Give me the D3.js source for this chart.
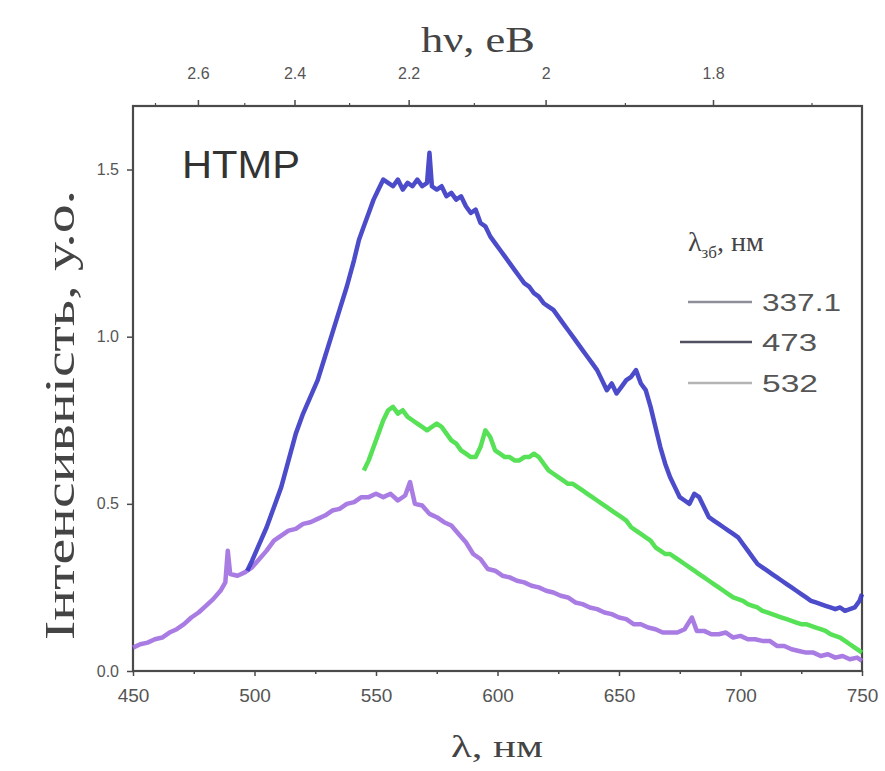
<!DOCTYPE html>
<html><head><meta charset="utf-8">
<script src="https://cdn.jsdelivr.net/npm/d3@7/dist/d3.min.js"></script>
<style>html,body{margin:0;padding:0;background:#fff;}svg{display:block;}</style>
</head><body>
<svg id="chart" width="885" height="771"></svg>
<script>
// ---- data ----
const seriesNames = ["337.1", "473", "532"];
const seriesColors = ["#a06ee0", "#3838c4", "#44de44"];
const legendLineColors = ["#8f8f9c", "#505060", "#b4b4b4"];

const wl337 = [450,453,456,459,462,465,468,471,474,477,480,483,486,488,489,490,493,496,499,502,505,508,511,514,517,520,523,526,529,532,535,538,541,544,547,550,553,556,559,562,564,566,569,572,575,578,581,584,587,590,593,596,599,602,605,608,611,614,617,620,623,626,629,632,635,638,641,644,647,650,653,656,659,662,665,668,671,674,677,680,682,685,688,691,694,697,700,703,706,709,712,715,718,721,724,727,730,733,736,739,742,745,748,750];
const int337 = [0.07,0.08,0.085,0.095,0.10,0.115,0.125,0.14,0.16,0.175,0.195,0.215,0.24,0.265,0.36,0.29,0.285,0.295,0.31,0.335,0.36,0.39,0.405,0.42,0.425,0.44,0.445,0.455,0.465,0.48,0.485,0.50,0.505,0.52,0.52,0.53,0.52,0.53,0.51,0.525,0.565,0.50,0.495,0.47,0.46,0.445,0.435,0.41,0.385,0.35,0.335,0.305,0.30,0.285,0.28,0.27,0.265,0.255,0.25,0.24,0.235,0.225,0.22,0.205,0.20,0.19,0.185,0.175,0.17,0.16,0.155,0.14,0.14,0.13,0.125,0.115,0.115,0.115,0.125,0.16,0.12,0.12,0.11,0.11,0.115,0.10,0.105,0.095,0.095,0.09,0.09,0.075,0.075,0.065,0.06,0.055,0.055,0.045,0.05,0.04,0.045,0.035,0.04,0.03];

const wl473 = [497,499,502,505,508,511,514,517,520,523,526,529,532,535,538,541,543,545,547,549,551,553,555,557,559,561,563,565,567,569,571,572,573,575,577,579,581,583,585,587,589,591,593,595,597,599,601,603,605,607,609,611,613,615,617,619,621,623,625,627,629,631,633,635,637,639,641,643,645,647,649,651,653,655,657,659,661,663,665,667,669,671,673,675,677,679,681,683,685,687,689,691,693,695,697,699,701,703,705,707,709,711,713,715,717,719,721,723,725,727,729,731,733,735,737,739,741,743,745,747,749,750];
const int473 = [0.30,0.33,0.38,0.43,0.49,0.55,0.63,0.71,0.77,0.82,0.87,0.94,1.01,1.08,1.15,1.23,1.29,1.33,1.37,1.41,1.44,1.47,1.46,1.45,1.47,1.44,1.46,1.45,1.47,1.45,1.46,1.55,1.45,1.44,1.45,1.42,1.43,1.41,1.42,1.39,1.37,1.38,1.34,1.33,1.30,1.28,1.26,1.24,1.22,1.20,1.18,1.16,1.15,1.13,1.12,1.10,1.09,1.08,1.06,1.04,1.02,1.00,0.98,0.96,0.94,0.92,0.90,0.87,0.84,0.86,0.83,0.85,0.87,0.88,0.90,0.86,0.84,0.79,0.73,0.67,0.62,0.58,0.55,0.52,0.51,0.50,0.53,0.52,0.49,0.46,0.45,0.44,0.43,0.42,0.41,0.40,0.38,0.36,0.34,0.32,0.31,0.30,0.29,0.28,0.27,0.26,0.25,0.24,0.23,0.22,0.21,0.205,0.20,0.195,0.19,0.185,0.19,0.18,0.185,0.19,0.21,0.23];

const wl532 = [545,547,549,551,553,555,557,559,561,563,565,567,569,571,573,575,577,579,581,583,585,587,589,591,593,595,597,599,601,603,605,607,609,611,613,615,617,619,621,623,625,627,629,631,633,635,637,639,641,643,645,647,649,651,653,655,657,659,661,663,665,667,669,671,673,675,677,679,681,683,685,687,689,691,693,695,697,699,701,703,705,707,709,711,713,715,717,719,721,723,725,727,729,731,733,735,737,739,741,743,745,747,749,750];
const int532 = [0.60,0.63,0.67,0.71,0.75,0.78,0.79,0.77,0.78,0.76,0.75,0.74,0.73,0.72,0.73,0.74,0.73,0.71,0.69,0.68,0.66,0.65,0.64,0.64,0.67,0.72,0.70,0.66,0.65,0.64,0.64,0.63,0.63,0.64,0.64,0.65,0.64,0.62,0.60,0.59,0.58,0.57,0.56,0.56,0.55,0.54,0.53,0.52,0.51,0.50,0.49,0.48,0.47,0.46,0.45,0.43,0.42,0.41,0.40,0.39,0.37,0.36,0.35,0.35,0.34,0.33,0.32,0.31,0.30,0.29,0.28,0.27,0.26,0.25,0.24,0.23,0.22,0.215,0.21,0.20,0.195,0.19,0.18,0.175,0.17,0.165,0.16,0.155,0.15,0.145,0.14,0.14,0.135,0.13,0.125,0.12,0.11,0.105,0.10,0.09,0.08,0.07,0.06,0.055];

const xTicks = [450,500,550,600,650,700,750];
const xMinorTicks = [475,525,575,625,675,725];
const yTicks = [0.0,0.5,1.0,1.5];
const topTicks = [2.6,2.4,2.2,2.0,1.8];
const topTickLabels = ["2.6","2.4","2.2","2","1.8"];
const topMinorTicks = [2.7,2.5,2.3,2.1,1.9,1.7];

const yTitle = "Інтенсивність, у.о.";
const xTitle = "λ, нм";
const topTitle = "hν, еВ";
const sampleLabel = "HTMP";

// ---- layout ----
const svg = d3.select("#chart");
const W = 885, H = 771;
const m = {left: 133, right: 23, top: 106, bottom: 100};
const x = d3.scaleLinear().domain([450, 750]).range([m.left, W - m.right]);
const y = d3.scaleLinear().domain([0, 1.69]).range([H - m.bottom, m.top]);
const axisColor = "#4a4a4a";
const labelColor = "#555";
const sans = "Liberation Sans, Arial, sans-serif";
const serif = "Liberation Serif, Times New Roman, serif";

// frame
svg.append("rect").attr("x", m.left).attr("y", m.top)
  .attr("width", W - m.left - m.right).attr("height", H - m.top - m.bottom)
  .attr("fill", "none").attr("stroke", axisColor).attr("stroke-width", 2.2);

// bottom axis
const xAxis = d3.axisBottom(x).tickValues(xTicks).tickSize(5).tickPadding(13).tickFormat(d3.format("d"));
const gx = svg.append("g").attr("transform", `translate(0,${H - m.bottom})`).call(xAxis);
const xMinor = d3.axisBottom(x).tickValues(xMinorTicks).tickSize(3).tickFormat("");
svg.append("g").attr("transform", `translate(0,${H - m.bottom})`).call(xMinor);

// left axis
const yAxis = d3.axisLeft(y).tickValues(yTicks).tickSize(6).tickPadding(8).tickFormat(d3.format(".1f"));
const gy = svg.append("g").attr("transform", `translate(${m.left},0)`).call(yAxis);

// top axis (photon energy, hν = 1240/λ)
const eToX = e => x(1240 / e);
const gt = svg.append("g").attr("class", "top");
const topMajor = gt.selectAll(".tmaj").data(topTicks).enter().append("g")
  .attr("transform", d => `translate(${eToX(d)},${m.top})`);
topMajor.append("line").attr("y1", 0).attr("y2", -6).attr("stroke", axisColor).attr("stroke-width", 1.5);
topMajor.append("text").text((d, i) => topTickLabels[i]).attr("y", -33)
  .attr("text-anchor", "middle").attr("dominant-baseline", "central")
  .attr("font-family", sans).attr("font-size", 16).attr("fill", labelColor);
gt.selectAll(".tmin").data(topMinorTicks).enter().append("line")
  .attr("x1", d => eToX(d)).attr("x2", d => eToX(d))
  .attr("y1", m.top).attr("y2", m.top - 3).attr("stroke", axisColor).attr("stroke-width", 1.2);

// style axes
svg.selectAll(".domain").remove();
svg.selectAll(".tick line").attr("stroke", axisColor).attr("stroke-width", 1.5);
gx.selectAll("text").attr("font-family", sans).attr("font-size", 19).attr("fill", labelColor);
gy.selectAll("text").attr("font-family", sans).attr("font-size", 16).attr("fill", labelColor);

// titles
svg.append("text").text(topTitle).attr("x", 478).attr("y", 52).attr("text-anchor", "middle")
  .attr("font-family", serif).attr("font-size", 36).attr("fill", "#444")
  .attr("textLength", 114).attr("lengthAdjust", "spacingAndGlyphs");
svg.append("text").text(xTitle).attr("x", 497).attr("y", 757).attr("text-anchor", "middle")
  .attr("font-family", serif).attr("font-size", 31).attr("fill", "#444")
  .attr("textLength", 92).attr("lengthAdjust", "spacingAndGlyphs");
svg.append("text").text(yTitle).attr("transform", `translate(74,415) rotate(-90)`)
  .attr("text-anchor", "middle")
  .attr("font-family", serif).attr("font-size", 42).attr("fill", "#444")
  .attr("textLength", 450).attr("lengthAdjust", "spacingAndGlyphs");
svg.append("text").text(sampleLabel).attr("x", 182).attr("y", 178)
  .attr("font-family", sans).attr("font-size", 38).attr("fill", "#333")
  .attr("textLength", 118).attr("lengthAdjust", "spacingAndGlyphs");

// curves
const line = d3.line().x(d => x(d[0])).y(d => y(d[1]));
const series = [
  {wl: wl532, v: int532, c: seriesColors[2]},
  {wl: wl337, v: int337, c: seriesColors[0]},
  {wl: wl473, v: int473, c: seriesColors[1]}
];
series.forEach(s => {
  svg.append("path").datum(s.wl.map((w, i) => [w, s.v[i]]))
    .attr("d", line).attr("fill", "none").attr("stroke", s.c)
    .attr("stroke-width", 4.5).attr("stroke-linejoin", "round").attr("opacity", 0.9);
});

// legend
const lg = svg.append("g");
const lt = lg.append("text").attr("x", 688).attr("y", 251)
  .attr("font-family", serif).attr("font-size", 28).attr("fill", "#444");
lt.append("tspan").text("λ");
lt.append("tspan").text("зб").attr("font-size", 17).attr("dy", 7);
lt.append("tspan").text(", нм").attr("dy", -7);
const legendY = [302, 342, 383];
const legendX1 = [688, 680, 688];
const legendW = [79, 55, 56];
seriesNames.forEach((n, i) => {
  const yy = legendY[i];
  lg.append("line").attr("x1", legendX1[i]).attr("x2", 752).attr("y1", yy).attr("y2", yy)
    .attr("stroke", legendLineColors[i]).attr("stroke-width", 2.5);
  lg.append("text").text(n).attr("x", 762).attr("y", yy).attr("dominant-baseline", "central")
    .attr("font-family", sans).attr("font-size", 24).attr("fill", "#555")
    .attr("textLength", legendW[i]).attr("lengthAdjust", "spacingAndGlyphs");
});
</script>
</body></html>
